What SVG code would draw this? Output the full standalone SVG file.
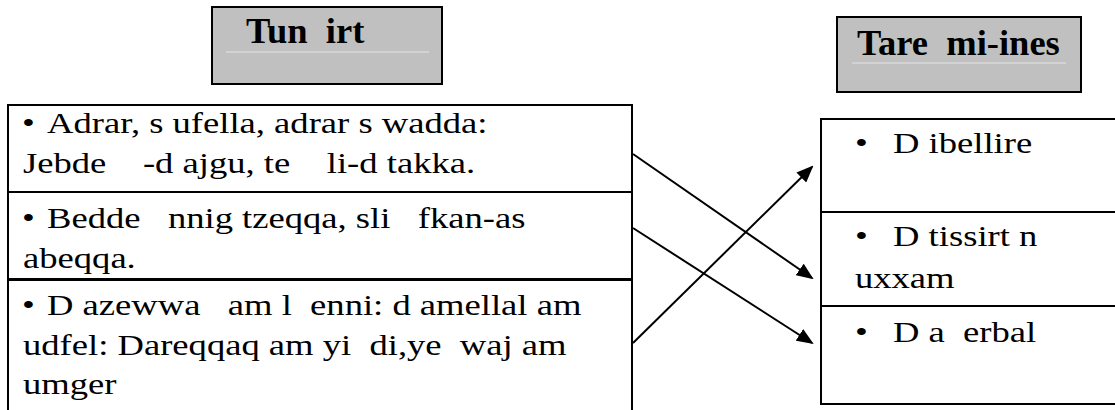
<svg xmlns="http://www.w3.org/2000/svg" width="1115" height="410" viewBox="0 0 1115 410">
<defs>
<style>
.title{fill:#c0c0c0;stroke:#000;stroke-width:2}
.hl{stroke:#d9d9d9;stroke-width:1.5}
.cell{fill:#fff;stroke:#000;stroke-width:2}
.tt{font-family:"Liberation Serif","Times New Roman",serif;font-weight:bold;font-size:36.5px;fill:#000;white-space:pre}
.t{font-family:"Liberation Serif","Times New Roman",serif;font-size:30.5px;fill:#000;white-space:pre}
.conn{stroke:#000;stroke-width:2;fill:none;marker-end:url(#ah)}
</style>
<marker id="ah" viewBox="0 0 17 14" refX="15" refY="7" markerWidth="17" markerHeight="14" markerUnits="userSpaceOnUse" orient="auto">
<path d="M0,0 L17,7 L0,14 z" fill="#000"/>
</marker>
</defs>
<rect width="1115" height="410" fill="#fff"/>
<g id="title-left">
<rect class="title" x="212" y="7" width="230" height="77"/>
<line class="hl" x1="226" y1="52" x2="429" y2="52"/>
<text class="tt" x="246" y="43" xml:space="preserve">Tun  irt</text>
</g>
<g id="title-right">
<rect class="title" x="837" y="17" width="244" height="75"/>
<line class="hl" x1="852" y1="63" x2="1066" y2="63"/>
<text class="tt" x="857" y="55" xml:space="preserve">Tare  mi-ines</text>
</g>
<g id="left-row1">
<rect class="cell" x="8" y="105" width="624" height="87"/>
<text class="t" transform="scale(1.2 1)" xml:space="preserve"><tspan x="18.3" y="133">•</tspan><tspan x="39.2" y="133">Adrar, s ufella, adrar s wadda:</tspan><tspan x="19.2" y="173">Jebde    -d ajgu, te    li-d takka.</tspan></text>
</g>
<g id="left-row2">
<rect class="cell" x="8" y="192" width="624" height="87"/>
<text class="t" transform="scale(1.2 1)" xml:space="preserve"><tspan x="18.3" y="228">•</tspan><tspan x="39.2" y="228">Bedde   nnig tzeqqa, sli   fkan-as</tspan><tspan x="19.2" y="268">abeqqa.</tspan></text>
</g>
<g id="left-row3">
<path class="cell" d="M8,412 V280 H632 V412"/>
<text class="t" transform="scale(1.2 1)" xml:space="preserve"><tspan x="18.3" y="315">•</tspan><tspan x="39.2" y="315">D azewwa   am l  enni: d amellal am</tspan><tspan x="19.2" y="355">udfel: Dareqqaq am yi  di,ye  waj am</tspan><tspan x="19.2" y="394">umger</tspan></text>
</g>
<g id="right-row1">
<rect class="cell" x="821" y="119" width="300" height="93"/>
<text class="t" transform="scale(1.2 1)" xml:space="preserve"><tspan x="712.5" y="153">•</tspan><tspan x="744.2" y="153">D ibellire</tspan></text>
</g>
<g id="right-row2">
<rect class="cell" x="821" y="212" width="300" height="94"/>
<text class="t" transform="scale(1.2 1)" xml:space="preserve"><tspan x="712.5" y="246">•</tspan><tspan x="744.2" y="246">D tissirt n</tspan><tspan x="712.5" y="288">uxxam</tspan></text>
</g>
<g id="right-row3">
<rect class="cell" x="821" y="306" width="300" height="98"/>
<text class="t" transform="scale(1.2 1)" xml:space="preserve"><tspan x="712.5" y="342">•</tspan><tspan x="744.2" y="342">D a  erbal</tspan></text>
</g>
<g id="connectors">
<line class="conn" x1="633" y1="154" x2="812" y2="278"/>
<line class="conn" x1="633" y1="228" x2="812" y2="343"/>
<line class="conn" x1="633" y1="343" x2="812" y2="167"/>
</g>
</svg>
